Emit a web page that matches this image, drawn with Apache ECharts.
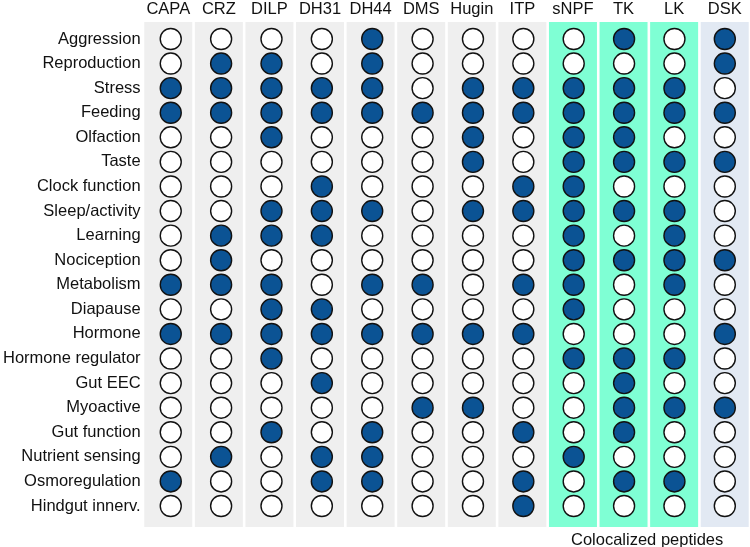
<!DOCTYPE html>
<html><head><meta charset="utf-8">
<script src="https://cdn.jsdelivr.net/npm/echarts@6/dist/echarts.min.js"></script>
<style>html,body{margin:0;padding:0;background:#fff}#c{width:750px;height:547px}</style>
</head><body><div id="c"></div>
<script>
const peptides = ['CAPA','CRZ','DILP','DH31','DH44','DMS','Hugin','ITP','sNPF','TK','LK','DSK'];
const functions = ['Aggression','Reproduction','Stress','Feeding','Olfaction','Taste','Clock function','Sleep/activity','Learning','Nociception','Metabolism','Diapause','Hormone','Hormone regulator','Gut EEC','Myoactive','Gut function','Nutrient sensing','Osmoregulation','Hindgut innerv.'];
// 1 = involved (filled), 0 = not; one row per function, columns in peptide order
const aggression      = [0,0,0,0,1,0,0,0,0,1,0,1];
const reproduction    = [0,1,1,0,1,0,0,0,0,0,0,1];
const stress          = [1,1,1,1,1,0,1,1,1,1,1,0];
const feeding         = [1,1,1,1,1,1,1,1,1,1,1,1];
const olfaction       = [0,0,1,0,0,0,1,0,1,1,0,0];
const taste           = [0,0,0,0,0,0,1,0,1,1,1,1];
const clockFunction   = [0,0,0,1,0,0,0,1,1,0,0,0];
const sleepActivity   = [0,0,1,1,1,0,1,1,1,1,1,0];
const learning        = [0,1,1,1,0,0,0,0,1,0,1,0];
const nociception     = [0,1,0,0,0,0,0,0,1,1,1,1];
const metabolism      = [1,1,1,0,1,1,0,1,1,0,1,0];
const diapause        = [0,0,1,1,0,0,0,0,1,0,0,0];
const hormone         = [1,1,1,1,1,1,1,1,0,0,0,1];
const hormoneRegulator= [0,0,1,0,0,0,0,0,1,1,1,0];
const gutEEC          = [0,0,0,1,0,0,0,0,0,1,0,0];
const myoactive       = [0,0,0,0,0,1,1,0,0,1,1,1];
const gutFunction     = [0,0,1,0,1,0,0,1,0,1,0,0];
const nutrientSensing = [0,1,0,1,1,0,0,0,1,0,0,0];
const osmoregulation  = [1,0,0,1,1,0,0,1,0,1,1,0];
const hindgutInnerv   = [0,0,0,0,0,0,0,1,0,0,0,0];
const matrix = [aggression,reproduction,stress,feeding,olfaction,taste,clockFunction,sleepActivity,learning,nociception,metabolism,diapause,hormone,hormoneRegulator,gutEEC,myoactive,gutFunction,nutrientSensing,osmoregulation,hindgutInnerv];
// column group: 0 = single peptide, 1 = colocalized, 2 = DSK
const columnGroup = [0,0,0,0,0,0,0,0,1,1,1,2];
const groupColors = ['#efefef','#7fffd4','#e2e9f3'];

const filled = [], empty = [];
matrix.forEach((row, r) => row.forEach((v, c) => {
  (v ? filled : empty).push([peptides[c], functions[r]]);
}));

const chart = echarts.init(document.getElementById('c'), null, {renderer:'canvas'});
const font = 'Liberation Sans, Arial, sans-serif';
chart.setOption({
  animation:false,
  grid:[
    {left:143, right:0, top:22, bottom:20},
    {left:143, right:0, top:26.7, bottom:28.7}
  ],
  xAxis:[
    {gridIndex:0, type:'category', data:peptides, position:'top',
     axisLine:{show:false}, axisTick:{show:false},
     axisLabel:{interval:0, hideOverlap:false, fontFamily:font, fontSize:16.5, color:'#111', margin:4}},
    {gridIndex:1, type:'category', data:peptides, show:false}
  ],
  yAxis:[
    {gridIndex:0, type:'value', min:0, max:1, show:false},
    {gridIndex:1, type:'category', data:functions, inverse:true,
     axisLine:{show:false}, axisTick:{show:false}, splitLine:{show:false},
     axisLabel:{interval:0, fontFamily:font, fontSize:16.5, color:'#111', margin:5}}
  ],
  series:[
    {type:'bar', xAxisIndex:0, yAxisIndex:0, barWidth:48, silent:true,
     data: peptides.map((p,i)=>({value:1, itemStyle:{color:groupColors[columnGroup[i]]}}))},
    {type:'scatter', xAxisIndex:1, yAxisIndex:1, symbol:'circle', symbolSize:21,
     itemStyle:{color:'#ffffff', borderColor:'#111', borderWidth:1.4, opacity:1}, data:empty},
    {type:'scatter', xAxisIndex:1, yAxisIndex:1, symbol:'circle', symbolSize:21,
     itemStyle:{color:'#0b5394', borderColor:'#111', borderWidth:1.4, opacity:1}, data:filled}
  ],
  title:{text:'Colocalized peptides', left:566, top:527,
    textStyle:{fontFamily:font, fontSize:16.5, fontWeight:'normal', color:'#111'}}
});
</script></body></html>
